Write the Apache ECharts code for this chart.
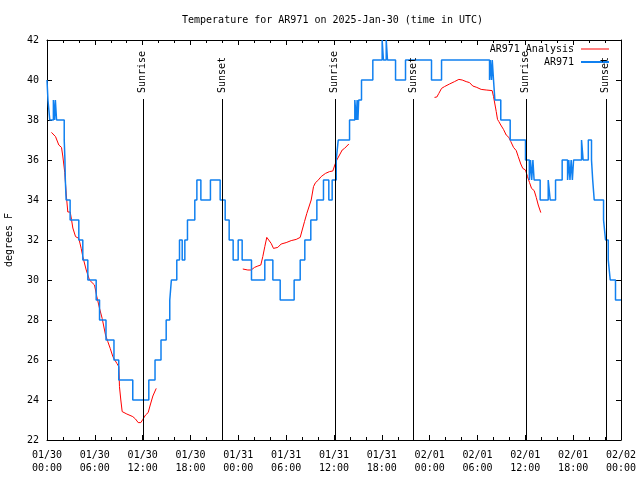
<!DOCTYPE html>
<html><head><meta charset="utf-8">
<script src="https://cdn.jsdelivr.net/npm/echarts@6/dist/echarts.min.js"></script>
<style>html,body{margin:0;padding:0;background:#fff}#c{width:640px;height:480px}</style>
</head><body><div id="c"></div>
<script>
// Hours since 2025-01-30 00:00 UTC
const obsHours = [0, 0.12, 0.35, 0.8, 0.95, 1.05, 1.2, 2.16, 2.25, 2.3, 2.4, 2.9, 3.99, 4.49, 5.12, 6.17, 6.59, 7.4, 8.4, 9.0, 10.76, 12.77, 13.55, 14.3, 14.95, 15.4, 15.6, 16.28, 16.62, 16.96, 17.29, 17.62, 18.54, 18.8, 19.3, 20.5, 21.72, 22.35, 22.85, 23.35, 23.98, 24.48, 25.65, 27.32, 28.33, 29.25, 31.0, 31.76, 32.34, 33.09, 33.85, 34.68, 35.35, 35.77, 36.28, 36.53, 37.95, 38.61, 38.8, 38.9, 39.0, 39.1, 39.45, 40.87, 42.04, 42.2, 42.55, 42.71, 43.72, 44.97, 48.23, 49.49, 55.51, 55.6, 55.76, 55.85, 56.01, 56.18, 56.92, 58.1, 60.02, 60.5, 60.65, 60.8, 60.95, 61.1, 61.86, 62.87, 63.12, 63.79, 64.62, 65.3, 65.45, 65.6, 65.75, 65.9, 66.05, 67.05, 67.25, 67.9, 68.3, 68.45, 68.64, 69.81, 70.06, 70.4, 70.65, 71.31, 72];
const obsTemps = [40, 39, 38, 39, 38, 39, 38, 37, 36, 35, 34, 33, 32, 31, 30, 29, 28, 27, 26, 25, 24, 25, 26, 27, 28, 29, 30, 31, 32, 31, 32, 33, 34, 35, 34, 35, 34, 33, 32, 31, 32, 31, 30, 31, 30, 29, 30, 31, 32, 33, 34, 35, 34, 35, 36, 37, 38, 39, 38, 39, 38, 39, 40, 41, 42, 41, 42, 41, 40, 41, 40, 41, 40, 41, 40, 41, 40, 39, 38, 37, 36, 35, 36, 35, 36, 35, 34, 35, 34, 35, 36, 35, 36, 35, 36, 35, 36, 37, 36, 37, 36, 35, 34, 33, 32, 31, 30, 29, 29];

const anaHours = [0.56, 1.07, 1.48, 1.82, 1.98, 2.23, 2.41, 2.61, 2.91, 3.07, 3.24, 3.58, 3.99, 4.29, 4.49, 4.92, 5.33, 5.96, 6.25, 6.59, 6.92, 7.17, 7.34, 7.63, 7.93, 8.26, 8.76, 9.01, 9.09, 9.26, 9.43, 10.01, 10.76, 11.1, 11.44, 11.77, 12.02, 12.36, 12.69, 12.95, 13.28, 13.7,
  19,
  24.56, 25.19, 25.61, 26.03, 26.45, 26.82, 27.07, 27.32, 27.57, 27.82, 28.12, 28.41, 28.66, 28.95, 29.37, 30.0, 30.63, 31.26, 31.76, 32.01, 32.3, 32.59, 32.84, 33.14, 33.43, 33.68, 33.97, 34.39, 34.93, 35.44, 35.85, 36.1, 36.35, 36.69, 37.03, 37.32, 37.86,
  43,
  48.61, 48.9, 49.15, 49.49, 49.86, 50.49, 51.12, 51.66, 52.08, 52.58, 53.0, 53.41, 53.91, 54.46, 55.09, 55.84, 56.01, 56.18, 56.35, 56.51, 56.68, 56.92, 57.26, 57.6, 57.93, 58.18, 58.52, 58.86, 59.11, 59.43, 59.68, 60.02, 60.27, 60.53, 60.78, 61.11, 61.37, 61.62, 61.94];
const anaTemps = [37.38, 37.17, 36.75, 36.63, 36.2, 35.37, 34.3, 33.4, 33.4, 33.03, 32.6, 32.17, 32.08, 31.58, 31.17, 30.5, 30.0, 29.75, 29.17, 28.58, 28.08, 28.0, 27.25, 26.92, 26.58, 26.17, 25.83, 25.67, 24.67, 24.0, 23.42, 23.3, 23.17, 23.05, 22.87, 22.87, 23.03, 23.25, 23.37, 23.75, 24.2, 24.58,
  null,
  30.55, 30.5, 30.5, 30.63, 30.7, 30.75, 31.17, 31.67, 32.13, 32.08, 31.83, 31.58, 31.5, 31.63, 31.8, 31.87, 31.97, 32.03, 32.13, 32.5, 32.92, 33.33, 33.42, 34.0, 34.67, 34.87, 34.97, 35.17, 35.33, 35.42, 35.45, 35.75, 36.0, 36.25, 36.5, 36.58, 36.8,
  null,
  39.13, 39.15, 39.33, 39.58, 39.67, 39.8, 39.92, 40.03, 40.0, 39.92, 39.87, 39.7, 39.63, 39.53, 39.5, 39.47, 39.17, 38.8, 38.42, 38.03, 37.92, 37.75, 37.53, 37.25, 37.13, 36.92, 36.63, 36.47, 36.17, 35.8, 35.58, 35.5, 35.17, 34.87, 34.58, 34.47, 34.13, 33.75, 33.37];

const sunHours = [12.02, 21.98, 36.1, 46.0, 60.07, 70.1];
const sunLabels = ['Sunrise', 'Sunset', 'Sunrise', 'Sunset', 'Sunrise', 'Sunset'];

const seriesNames = ['AR971 Analysis', 'AR971'];
const titleText = 'Temperature for AR971 on 2025-Jan-30 (time in UTC)';
const yName = 'degrees F';

const FONT = '"DejaVu Sans Mono", "Liberation Mono", monospace';
const BASE = Date.UTC(2025, 0, 30);
const SUN_LINE_TOP = 39.05;
const SUN_LABEL_AT = 39.35;
const RED = '#ff0000';
const BLUE = '#1080f0';

function fmt(h) {
  const d = new Date(BASE + h * 3600000);
  const p = n => String(n).padStart(2, '0');
  return p(d.getUTCMonth() + 1) + '/' + p(d.getUTCDate()) + '\n' + p(d.getUTCHours()) + ':' + p(d.getUTCMinutes());
}

const tickStyle = { color: '#000', width: 1 };
function xAx(pos, showLabel) {
  return {
    type: 'value', position: pos, min: 0, max: 72, interval: 6,
    axisLine: { show: true, onZero: false, lineStyle: tickStyle },
    axisTick: { show: true, inside: true, length: 5, lineStyle: tickStyle },
    minorTick: { show: true, splitNumber: 3, length: 3, lineStyle: tickStyle },
    axisLabel: { show: showLabel, formatter: fmt, fontFamily: FONT, fontSize: 10, color: '#000', margin: 9, lineHeight: 13 },
    splitLine: { show: false }, minorSplitLine: { show: false }
  };
}
function yAx(pos, showLabel) {
  const a = {
    type: 'value', position: pos, min: 22, max: 42, interval: 2,
    axisLine: { show: true, onZero: false, lineStyle: tickStyle },
    axisTick: { show: true, inside: true, length: 5, lineStyle: tickStyle },
    axisLabel: { show: showLabel, fontFamily: FONT, fontSize: 10, color: '#000', margin: 8 },
    splitLine: { show: false }
  };
  if (showLabel) {
    a.name = yName; a.nameLocation = 'middle'; a.nameGap = 33; a.nameRotate = 90;
    a.nameTextStyle = { fontFamily: FONT, fontSize: 10, color: '#000' };
  }
  return a;
}

const legendBase = {
  orient: 'vertical', align: 'right', right: 31, itemWidth: 28, padding: 0, icon: 'rect',
  selectedMode: false, textStyle: { fontFamily: FONT, fontSize: 10, color: '#000', padding: [0, 2, 0, 0] }
};

const chart = echarts.init(document.getElementById('c'), null, { renderer: 'canvas' });
chart.setOption({
  animation: false,
  backgroundColor: '#fff',
  title: {
    text: titleText, left: 182, top: 14, padding: 0,
    textStyle: { fontFamily: FONT, fontSize: 10, fontWeight: 'normal', color: '#000', lineHeight: 12 }
  },
  legend: [
    Object.assign({}, legendBase, { data: [seriesNames[0]], top: 44, itemHeight: 1 }),
    Object.assign({}, legendBase, { data: [seriesNames[1]], top: 57, itemHeight: 2 })
  ],
  grid: { left: 47, right: 19, top: 40, bottom: 40, containLabel: false, outerBoundsMode: 'none' },
  xAxis: [xAx('bottom', true), xAx('top', false)],
  yAxis: [yAx('left', true), yAx('right', false)],
  series: [
    {
      name: seriesNames[0], type: 'line', xAxisIndex: 0, yAxisIndex: 0,
      data: anaHours.map((h, i) => [h, anaTemps[i]]),
      symbol: 'none', connectNulls: false,
      lineStyle: { color: RED, width: 1 }, itemStyle: { color: RED },
      z: 2,
      markLine: {
        silent: true, symbol: ['none', 'none'], animation: false,
        label: { show: false },
        lineStyle: { color: '#000', width: 1, type: 'solid' },
        emphasis: { disabled: true },
        data: sunHours.map(h => [{ coord: [h, 22] }, { coord: [h, SUN_LINE_TOP] }])
      },
      markPoint: {
        silent: true, symbol: 'circle', symbolSize: 1, animation: false,
        itemStyle: { color: 'rgba(0,0,0,0)' },
        label: {
          show: true, position: 'inside', rotate: 90, align: 'left', verticalAlign: 'middle',
          formatter: p => p.name, color: '#000', fontFamily: FONT, fontSize: 10
        },
        data: sunHours.map((h, i) => ({ name: sunLabels[i], coord: [h, SUN_LABEL_AT] }))
      }
    },
    {
      name: seriesNames[1], type: 'line', xAxisIndex: 0, yAxisIndex: 0, step: 'end',
      data: obsHours.map((h, i) => [h, obsTemps[i]]),
      symbol: 'none',
      lineStyle: { color: BLUE, width: 1.5 }, itemStyle: { color: BLUE },
      z: 3
    }
  ]
});
</script>
</body></html>
